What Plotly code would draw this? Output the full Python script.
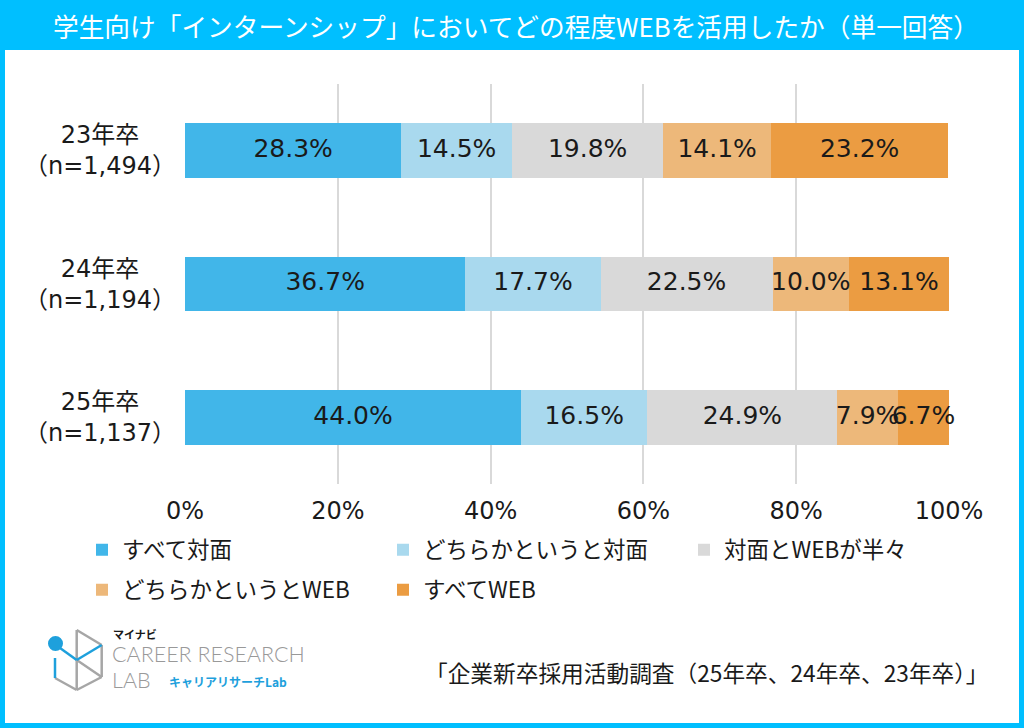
import plotly.graph_objects as go

categories = ["23年卒", "24年卒", "25年卒"]
sample_sizes = ["（n=1,494）", "（n=1,194）", "（n=1,137）"]
series_names = ["すべて対面", "どちらかというと対面", "対面とWEBが半々", "どちらかというとWEB", "すべてWEB"]
all_face = [28.3, 36.7, 44.0]
mostly_face = [14.5, 17.7, 16.5]
half_half = [19.8, 22.5, 24.9]
mostly_web = [14.1, 10.0, 7.9]
all_web = [23.2, 13.1, 6.7]
series_values = [all_face, mostly_face, half_half, mostly_web, all_web]
tick_vals = [0, 20, 40, 60, 80, 100]
tick_text = ["0%", "20%", "40%", "60%", "80%", "100%"]

colors = ["#41B6E9", "#A9D9EE", "#D9D9D9", "#EDB87A", "#EB9C42"]
CYAN = "#00BFFF"
FONT = "DejaVu Sans, Noto Sans CJK JP, sans-serif"
JFONT = "Noto Sans CJK JP, sans-serif"

W, H = 1024, 728
L, R, T, B = 185, 949, 84, 484


def px(x):
    return (x - L) / (R - L)


def py(y):
    return (B - y) / (B - T)


fig = go.Figure()
starts = [0.0] * len(categories)
label_x, label_y, label_t = [], [], []
for i, (name, vals, col) in enumerate(zip(series_names, series_values, colors)):
    fig.add_trace(go.Bar(
        y=categories, x=vals, name=name, orientation="h",
        marker=dict(color=col, line=dict(width=0)),
        width=0.41, hoverinfo="skip",
        legend="legend" if i < 3 else "legend2",
    ))
    for j, v in enumerate(vals):
        label_x.append(starts[j] + v / 2)
        label_y.append(categories[j])
        label_t.append(f"{v:.1f}%")
        starts[j] += v

fig.add_trace(go.Scatter(
    x=label_x, y=label_y, text=label_t, mode="text", showlegend=False,
    textposition="middle center", cliponaxis=False, hoverinfo="skip",
    textfont=dict(family=FONT, size=25, color="#1a1a1a"),
))

shapes = []
shapes.append(dict(type="rect", xref="paper", yref="paper", x0=px(-5), x1=px(W + 5), y0=py(50), y1=py(-5),
                   fillcolor=CYAN, line=dict(width=0), layer="below"))
shapes.append(dict(type="rect", xref="paper", yref="paper", x0=px(0), x1=px(W), y0=py(H), y1=py(0),
                   fillcolor="rgba(0,0,0,0)", line=dict(width=10, color=CYAN), layer="above"))

gray = "#A6A6A6"
blue = "#1EA0DC"


def seg(x0, y0, x1, y1, c, w=2.5):
    shapes.append(dict(type="line", xref="paper", yref="paper", x0=px(x0), y0=py(y0), x1=px(x1), y1=py(y1),
                       line=dict(color=c, width=w)))


seg(76.7, 630, 101.7, 645, gray)
seg(101.7, 645, 101.7, 677, gray)
seg(101.7, 677, 76.7, 690, gray)
seg(76.7, 690, 55, 678, gray)
seg(76.7, 630, 76.7, 690, gray)
seg(76.7, 660, 101.7, 677, gray)
seg(55, 658, 55, 678, blue)
seg(60, 648, 76.7, 660, blue)
seg(76.7, 660, 101.7, 645, blue)
shapes.append(dict(type="circle", xref="paper", yref="paper", x0=px(48), x1=px(63), y0=py(651), y1=py(636),
                   fillcolor=blue, line=dict(width=0)))

annotations = []
annotations.append(dict(text="学生向け「インターンシップ」においてどの程度WEBを活用したか（単一回答）",
                        xref="paper", yref="paper", x=px(516), y=py(25), xanchor="center", yanchor="middle",
                        showarrow=False, font=dict(family=JFONT, size=25.7, color="white")))
for cat, n in zip(categories, sample_sizes):
    annotations.append(dict(text=f"{cat}<br>{n}", xref="paper", yref="y", x=px(100), y=cat,
                            xanchor="center", yanchor="middle", align="center", showarrow=False,
                            font=dict(family=FONT, size=24, color="#1a1a1a")))
annotations.append(dict(text="「企業新卒採用活動調査（25年卒、24年卒、23年卒）」", xref="paper", yref="paper",
                        x=px(990), y=py(672), xanchor="right", yanchor="middle", showarrow=False,
                        font=dict(family=JFONT, size=22.7, color="#1a1a1a")))
annotations.append(dict(text="<b>マイナビ</b>", xref="paper", yref="paper", x=px(111), y=py(634),
                        xanchor="left", yanchor="middle", showarrow=False,
                        font=dict(family=JFONT, size=11, color="#1a1a1a")))
annotations.append(dict(text="CAREER RESEARCH", xref="paper", yref="paper", x=px(110), y=py(654),
                        xanchor="left", yanchor="middle", showarrow=False,
                        font=dict(family="Lato, sans-serif", size=21.5, color="#999999", weight=300)))
annotations.append(dict(text="LAB", xref="paper", yref="paper", x=px(110), y=py(680),
                        xanchor="left", yanchor="middle", showarrow=False,
                        font=dict(family="Lato, sans-serif", size=21.5, color="#999999", weight=300)))
annotations.append(dict(text="<b>キャリアリサーチLab</b>", xref="paper", yref="paper", x=px(167), y=py(681),
                        xanchor="left", yanchor="middle", showarrow=False,
                        font=dict(family=JFONT, size=12, color=blue)))

legend_common = dict(orientation="h", xanchor="left", yanchor="middle",
                     entrywidth=256, entrywidthmode="pixels", traceorder="normal",
                     font=dict(family=JFONT, size=22.5, color="#1a1a1a"),
                     itemwidth=30, bgcolor="rgba(0,0,0,0)")

fig.update_layout(
    width=W, height=H,
    margin=dict(l=L, r=W - R, t=T, b=H - B, pad=0),
    paper_bgcolor="white", plot_bgcolor="white",
    barmode="stack", bargap=0.59,
    showlegend=True,
    legend=dict(x=px(82), y=py(550), **legend_common),
    legend2=dict(x=px(82), y=py(590), **legend_common),
    xaxis=dict(range=[0, 100], tickvals=tick_vals, ticktext=tick_text, showgrid=True,
               gridcolor="#D9D9D9", gridwidth=1.5, zeroline=False, showline=False,
               tickfont=dict(family=FONT, size=24, color="#1a1a1a"), ticks="", ticklabelstandoff=10),
    yaxis=dict(categoryorder="array", categoryarray=categories, range=[2.5, -0.5],
               showticklabels=False, showgrid=False, zeroline=False, showline=False, ticks=""),
    shapes=shapes, annotations=annotations,
)

fig.write_html("out.html", config={"displayModeBar": False},
               post_script="document.body.style.margin='0';document.body.style.overflow='hidden';")
